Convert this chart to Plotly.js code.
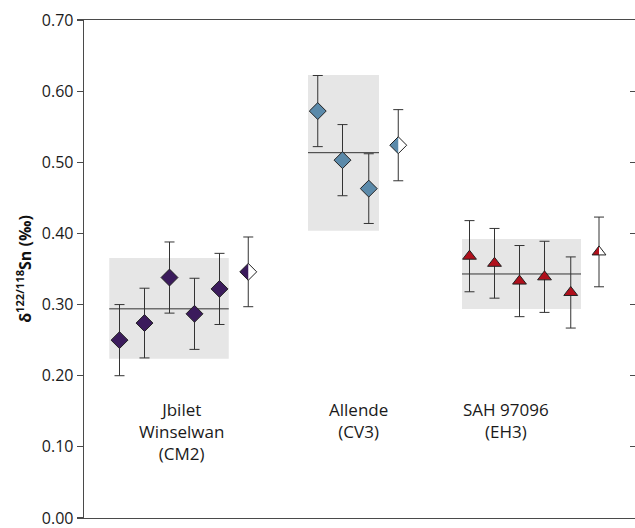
<!DOCTYPE html>
<html>
<head>
<meta charset="utf-8">
<script src="https://cdn.plot.ly/plotly-3.0.1.min.js"></script>
<style>html,body{margin:0;padding:0;background:#fff;}#chart{width:635px;height:528px;}</style>
</head>
<body>
<div id="chart"></div>
<script>
// ---- data ----
const groupNames = ["Jbilet<br>Winselwan<br>(CM2)", "Allende<br>(CV3)", "SAH 97096<br>(EH3)"];
const groupLabelX = [3.49, 10.55, 16.45];

const jbX = [1, 2, 3, 4, 5];
const jbY = [0.250, 0.274, 0.338, 0.287, 0.322];
const jbErr = [0.050, 0.049, 0.050, 0.050, 0.050];

const alX = [8.93, 9.92, 10.97];
const alY = [0.572, 0.503, 0.463];
const alErr = [0.050, 0.050, 0.049];

const saX = [15, 16, 17, 18, 19.05];
const saY = [0.368, 0.358, 0.333, 0.339, 0.317];
const saErr = [0.050, 0.049, 0.050, 0.050, 0.050];

// half-filled (open) points: Jbilet, Allende, SAH
const openX = [6.15, 12.15, 20.18];
const openY = [0.346, 0.524, 0.374];
const openErr = [0.049, 0.050, 0.049];

// group mean and band (lower/upper), and band x extent
const groupMean = [0.294, 0.5135, 0.343];
const groupLow = [0.224, 0.4038, 0.2938];
const groupHigh = [0.3655, 0.6227, 0.3922];
const groupX0 = [0.59, 8.54, 14.70];
const groupX1 = [5.37, 11.38, 19.46];

const yTicks = [0, 0.1, 0.2, 0.3, 0.4, 0.5, 0.6, 0.7];

// ---- styles ----
const colors = ["#3b1b5c", "#5b8aaa", "#b0101c"];
const edge = "#222222";
const errColor = "#333333";
const axisColor = "#4a4a4a";
const font = "'Open Sans', 'Noto Sans', sans-serif";

function errTrace(x, y, err, color, symbol, size, yaxis) {
  return {
    type: "scatter", mode: "markers", x: x, y: y, yaxis: yaxis || "y",
    hoverinfo: "skip", showlegend: false,
    marker: {symbol: symbol, size: size, color: color, line: {color: edge, width: 1}},
    error_y: {type: "data", array: err, visible: true, color: errColor, thickness: 1, width: 5}
  };
}

const traces = [
  errTrace(jbX, jbY, jbErr, colors[0], "diamond", 13),
  errTrace(alX, alY, alErr, colors[1], "diamond", 13),
  errTrace(saX, saY, saErr, colors[2], "triangle-up", 12),
  errTrace(openX, openY, openErr, "rgba(0,0,0,0)", "circle", 1, "y2")
];
traces[3].marker.line.width = 0;

const shapes = [];
for (let i = 0; i < groupMean.length; i++) {
  shapes.push({type: "rect", layer: "below", xref: "x", yref: "y",
    x0: groupX0[i], x1: groupX1[i], y0: groupLow[i], y1: groupHigh[i],
    fillcolor: "#e6e6e6", line: {width: 0}});
  shapes.push({type: "line", layer: "below", xref: "x", yref: "y",
    x0: groupX0[i], x1: groupX1[i], y0: groupMean[i], y1: groupMean[i],
    line: {color: "#333333", width: 1}});
}

// half-filled marker glyphs (pixel-sized paths anchored at data points)
const dR = 8.45; // diamond half-size in px
const tR = 6;    // triangle radius in px
const tW = 6.93;
function glyph(x, y, path, fill, lineW) {
  return {type: "path", layer: "above", xref: "x", yref: "y",
    xsizemode: "pixel", ysizemode: "pixel", xanchor: x, yanchor: y,
    path: path, fillcolor: fill,
    line: {color: edge, width: lineW}};
}
const diamondFull = `M${dR},0 L0,${dR} L${-dR},0 L0,${-dR} Z`;
const diamondLeft = `M0,${dR} L${-dR},0 L0,${-dR} Z`;
const triFull = `M${-tW},${-tR/2} L${tW},${-tR/2} L0,${tR} Z`;
const triLeft = `M${-tW},${-tR/2} L0,${-tR/2} L0,${tR} Z`;
const openFull = [diamondFull, diamondFull, triFull];
const openLeft = [diamondLeft, diamondLeft, triLeft];
for (let i = 0; i < openX.length; i++) {
  shapes.push(glyph(openX[i], openY[i], openFull[i], "#ffffff", 0));
  shapes.push(glyph(openX[i], openY[i], openLeft[i], colors[i], 0));
  shapes.push(glyph(openX[i], openY[i], openFull[i], "rgba(0,0,0,0)", 1));
}

const annotations = groupNames.map((t, i) => ({
  text: t, x: groupLabelX[i], y: 0.172, xref: "x", yref: "y",
  xanchor: "center", yanchor: "top", showarrow: false, align: "center",
  font: {family: font, size: 17, color: "#1a1a1a"}
}));

const layout = {
  width: 635, height: 528,
  margin: {l: 84, r: 0, t: 20, b: 10, pad: 0},
  paper_bgcolor: "#fff", plot_bgcolor: "#fff",
  showlegend: false,
  font: {family: font, size: 16, color: "#1a1a1a"},
  xaxis: {range: [-0.42, 21.62], showgrid: false, zeroline: false,
    showticklabels: false, ticks: "", showline: true, mirror: true,
    linecolor: axisColor, linewidth: 1.3},
  yaxis: {range: [0, 0.70], tickvals: yTicks, tickformat: ".2f",
    ticks: "outside", ticklen: 6, tickcolor: axisColor, tickwidth: 1.2,
    ticklabeloverflow: "allow",
    showline: true, linecolor: axisColor, linewidth: 1.3,
    showgrid: false, zeroline: false,
    tickfont: {family: font, size: 16, color: "#1a1a1a"},
    title: {text: "δ<sup>122/118</sup>Sn (‰)", standoff: 6,
      font: {family: font, size: 16, color: "#111", weight: "bold"}}},
  yaxis2: {range: [0, 0.70], overlaying: "y", side: "right", anchor: "x",
    tickvals: yTicks, ticks: "inside", ticklen: 5, tickcolor: axisColor, tickwidth: 1.2,
    showticklabels: false, showline: false, showgrid: false, zeroline: false},
  shapes: shapes,
  annotations: annotations
};

Plotly.newPlot("chart", traces, layout, {displayModeBar: false, staticPlot: true});
</script>
</body>
</html>
